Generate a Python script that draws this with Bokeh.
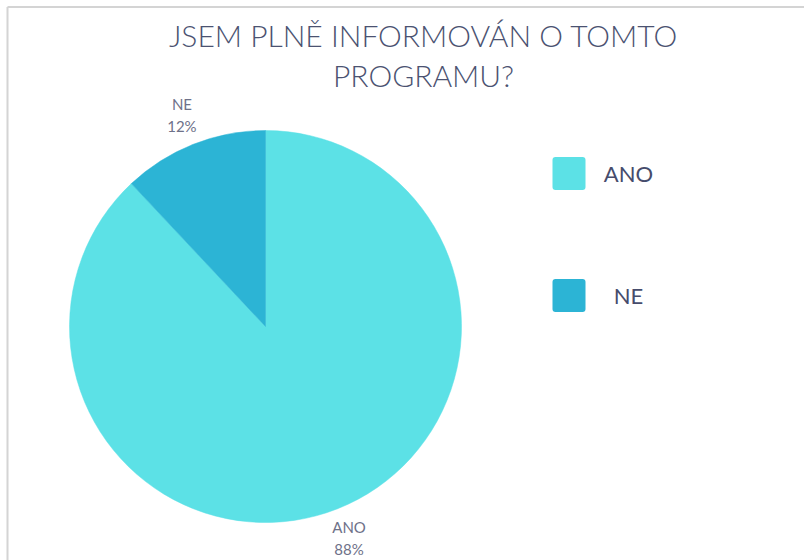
import math
from bokeh.plotting import figure
from bokeh.models import Range1d, ColumnDataSource
from bokeh.core.properties import value
from bokeh.embed import file_html
from bokeh.resources import INLINE

# ---- data ----
categories = ["ANO", "NE"]
values = [88, 12]
palette = ["#5CE1E6", "#2CB4D5"]
title_lines = ["JSEM PLNĚ INFORMOVÁN O TOMTO", "PROGRAMU?"]

# ---- layout (picture pixel coordinates) ----
W, H = 804, 560
def Y(py):
    return H - py

cx, cy, R = 265, Y(326), 196
label_r = 227
FONT = "Lato Light"
FONT2 = "Lato"

p = figure(width=W, height=H, output_backend="svg", toolbar_location=None,
           x_range=Range1d(0, W), y_range=Range1d(0, H),
           min_border=0, outline_line_color=None)
p.axis.visible = False
p.grid.visible = False
p.background_fill_color = "white"
p.border_fill_color = "white"

# frame lines (top and left)
p.line(x=[7, W], y=[Y(6.5), Y(6.5)], line_color="#d4d4d4", line_width=2)
p.line(x=[7, 7], y=[Y(6.5), 0], line_color="#d4d4d4", line_width=2)

# pie wedges, clockwise from 12 o'clock
total = sum(values)
starts, ends, mids = [], [], []
cum = 0
for v in values:
    a0 = math.pi / 2 - 2 * math.pi * cum / total
    a1 = math.pi / 2 - 2 * math.pi * (cum + v) / total
    starts.append(a0)
    ends.append(a1)
    mids.append((a0 + a1) / 2)
    cum += v

src = ColumnDataSource(dict(x=[cx] * len(values), y=[cy] * len(values),
                            start=starts, end=ends, color=palette))
p.wedge(x="x", y="y", radius=R, start_angle="start", end_angle="end",
        direction="clock", fill_color="color", line_color="color", line_width=0.5,
        source=src)

# slice labels (two lines around the label anchor)
lx = [cx + label_r * math.cos(m) for m in mids]
ly = [cy + label_r * math.sin(m) for m in mids]
pct = [f"{round(100 * v / total)}%" for v in values]
p.text(x=lx, y=[y + 11 for y in ly], text=categories, text_align="center",
       text_baseline="middle", text_font=value(FONT2), text_font_size="15px",
       text_color="#6E7189")
p.text(x=lx, y=[y - 11 for y in ly], text=pct, text_align="center",
       text_baseline="middle", text_font=value(FONT2), text_font_size="15px",
       text_color="#6E7189")

# legend
leg_y = [Y(173), Y(295)]
p.rect(x=[568.5] * len(categories), y=leg_y, width=33, height=33,
       fill_color=palette, line_color=None, border_radius=3)
p.text(x=[628] * len(categories), y=leg_y, text=categories, text_align="center",
       text_baseline="middle", text_font=value(FONT2), text_font_size="22px",
       text_color="#464C6C")

# title
p.text(x=[423, 423], y=[Y(34), Y(74)], text=title_lines, text_align="center",
       text_baseline="middle", text_font=value(FONT), text_font_size="30px",
       text_color="#4B5271")

open("out.html", "w").write(file_html(p, INLINE))
